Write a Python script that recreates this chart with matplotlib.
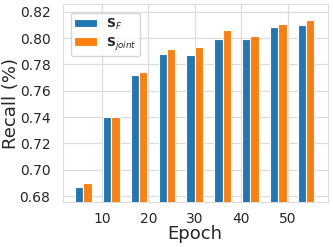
import numpy as np
import matplotlib
matplotlib.use("Agg")
import matplotlib.pyplot as plt
import seaborn as sns

epochs = [6, 12, 18, 24, 30, 36, 42, 48, 54]
recall_f = [0.687, 0.740, 0.772, 0.788, 0.787, 0.799, 0.799, 0.808, 0.810]
recall_joint = [0.690, 0.740, 0.7745, 0.7915, 0.793, 0.806, 0.8015, 0.811, 0.814]
xticks = [10, 20, 30, 40, 50]
yticks = [0.68, 0.70, 0.72, 0.74, 0.76, 0.78, 0.80, 0.82]

sns.set_style("whitegrid")
plt.rcParams['font.family'] = ['DejaVu Sans']

fig = plt.figure(figsize=(3.33, 2.47), dpi=100)
ax = fig.add_axes([0.189, 0.182, 0.797, 0.800])

w = 1.8
x = np.array(epochs)
ax.bar(x - w / 2, recall_f, width=w, color="#1f77b4", edgecolor="white",
       linewidth=0.8, label=r"$\mathbf{S}_F$", zorder=3)
ax.bar(x + w / 2, recall_joint, width=w, color="#ff7f0e", edgecolor="white",
       linewidth=0.8, label=r"$\mathbf{S}_{joint}$", zorder=3)

ax.set_xlim(1.6, 58.8)
ax.set_ylim(0.6755, 0.8255)
ax.set_xticks(xticks)
ax.set_yticks(yticks)
ax.tick_params(axis="both", labelsize=10, colors="#262626")
ax.tick_params(axis="x", pad=3.5)
ax.tick_params(axis="y", pad=5.5)
ax.set_xlabel("Epoch", fontsize=13, color="#262626")
ax.set_ylabel("Recall (%)", fontsize=13, color="#262626")
ax.xaxis.set_label_coords(0.497, -0.115)
ax.yaxis.set_label_coords(-0.163, 0.5)

for s in ax.spines.values():
    s.set_color("#dddddd")
ax.grid(True, color="#dddddd", linewidth=0.9, zorder=0)

ax.legend(loc="upper left", fontsize=9, frameon=True, handlelength=1.8,
          borderpad=0.3, labelspacing=0.3, handletextpad=0.7,
          bbox_to_anchor=(0.005, 0.99))

fig.savefig("out.png", dpi=100)
